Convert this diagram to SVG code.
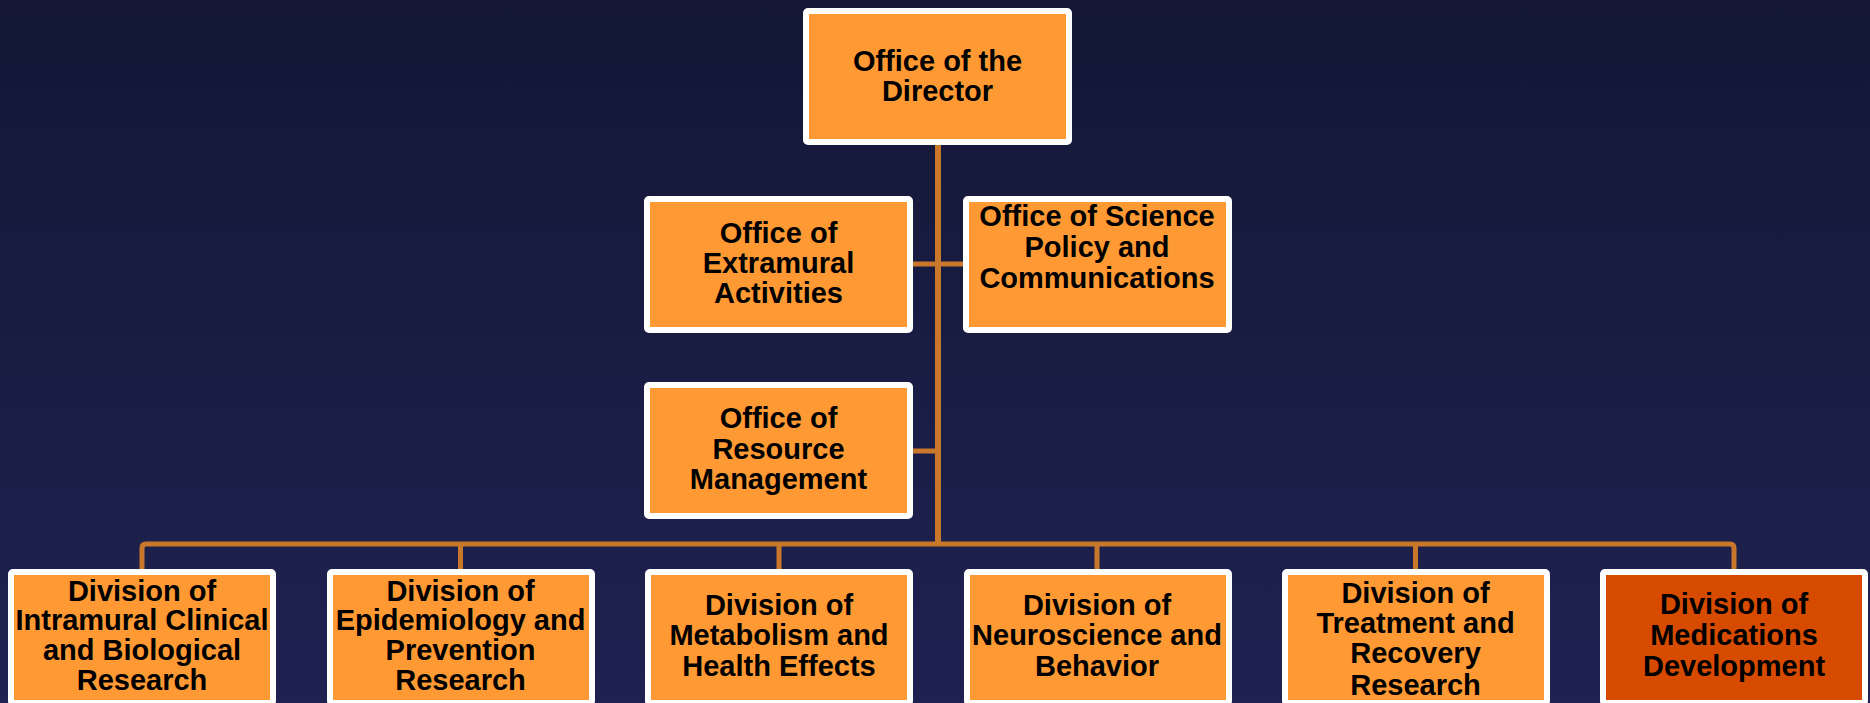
<svg xmlns="http://www.w3.org/2000/svg" width="1870" height="703" viewBox="0 0 1870 703">
  <defs>
    <linearGradient id="bg" x1="0" y1="0" x2="0" y2="1">
      <stop offset="0" stop-color="#131735"/>
      <stop offset="1" stop-color="#1f2251"/>
    </linearGradient>
    <style>
      .box { fill: #ff9933; stroke: #ffffff; stroke-width: 6; }
      .box.dark { fill: #d64b00; }
      .lbl { font-family: "Liberation Sans", Arial, sans-serif; font-weight: bold; font-size: 29px; fill: #000000; text-anchor: middle; }
      .ln { stroke: #c9782b; fill: none; }
    </style>
  </defs>
  <rect x="0" y="0" width="1870" height="703" fill="url(#bg)"/>

  <g id="connectors">
    <line class="ln" x1="938" y1="145" x2="938" y2="546" stroke-width="6"/>
    <line class="ln" x1="912" y1="264" x2="963" y2="264" stroke-width="5"/>
    <line class="ln" x1="913" y1="451" x2="938" y2="451" stroke-width="5"/>
    <path class="ln" d="M142,570 V548 Q142,544 146,544 H1730 Q1734,544 1734,548 V570" stroke-width="5"/>
    <line class="ln" x1="460.5" y1="544" x2="460.5" y2="570" stroke-width="5"/>
    <line class="ln" x1="779" y1="544" x2="779" y2="570" stroke-width="5"/>
    <line class="ln" x1="1097" y1="544" x2="1097" y2="570" stroke-width="5"/>
    <line class="ln" x1="1415.5" y1="544" x2="1415.5" y2="570" stroke-width="5"/>
  </g>

  <g id="director">
    <rect class="box" x="806" y="11" width="263" height="131" rx="2"/>
    <text class="lbl" x="937.5" y="71">Office of the</text>
    <text class="lbl" x="937.5" y="101">Director</text>
  </g>

  <g id="extramural">
    <rect class="box" x="647" y="199" width="263" height="131" rx="2"/>
    <text class="lbl" x="778.5" y="243">Office of</text>
    <text class="lbl" x="778.5" y="273">Extramural</text>
    <text class="lbl" x="778.5" y="303">Activities</text>
  </g>

  <g id="science">
    <rect class="box" x="966" y="199" width="263" height="131" rx="2"/>
    <text class="lbl" x="1097" y="226">Office of Science</text>
    <text class="lbl" x="1097" y="257">Policy and</text>
    <text class="lbl" x="1097" y="288">Communications</text>
  </g>

  <g id="resource">
    <rect class="box" x="647" y="385" width="263" height="131" rx="2"/>
    <text class="lbl" x="778.5" y="428">Office of</text>
    <text class="lbl" x="778.5" y="459">Resource</text>
    <text class="lbl" x="778.5" y="489">Management</text>
  </g>

  <g id="div-intramural">
    <rect class="box" x="11" y="572" width="262" height="131" rx="2"/>
    <text class="lbl" x="142" y="601">Division of</text>
    <text class="lbl" x="142" y="630">Intramural Clinical</text>
    <text class="lbl" x="142" y="660">and Biological</text>
    <text class="lbl" x="142" y="690">Research</text>
  </g>

  <g id="div-epidemiology">
    <rect class="box" x="330" y="572" width="262" height="131" rx="2"/>
    <text class="lbl" x="460.5" y="601">Division of</text>
    <text class="lbl" x="460.5" y="630">Epidemiology and</text>
    <text class="lbl" x="460.5" y="660">Prevention</text>
    <text class="lbl" x="460.5" y="690">Research</text>
  </g>

  <g id="div-metabolism">
    <rect class="box" x="648" y="572" width="262" height="131" rx="2"/>
    <text class="lbl" x="779" y="615">Division of</text>
    <text class="lbl" x="779" y="645">Metabolism and</text>
    <text class="lbl" x="779" y="676">Health Effects</text>
  </g>

  <g id="div-neuroscience">
    <rect class="box" x="967" y="572" width="262" height="131" rx="2"/>
    <text class="lbl" x="1097" y="615">Division of</text>
    <text class="lbl" x="1097" y="645">Neuroscience and</text>
    <text class="lbl" x="1097" y="676">Behavior</text>
  </g>

  <g id="div-treatment">
    <rect class="box" x="1285" y="572" width="262" height="131" rx="2"/>
    <text class="lbl" x="1415.5" y="603">Division of</text>
    <text class="lbl" x="1415.5" y="633">Treatment and</text>
    <text class="lbl" x="1415.5" y="663">Recovery</text>
    <text class="lbl" x="1415.5" y="695">Research</text>
  </g>

  <g id="div-medications">
    <rect class="box dark" x="1603" y="572" width="262" height="131" rx="2"/>
    <text class="lbl" x="1734" y="614">Division of</text>
    <text class="lbl" x="1734" y="645">Medications</text>
    <text class="lbl" x="1734" y="676">Development</text>
  </g>
</svg>
